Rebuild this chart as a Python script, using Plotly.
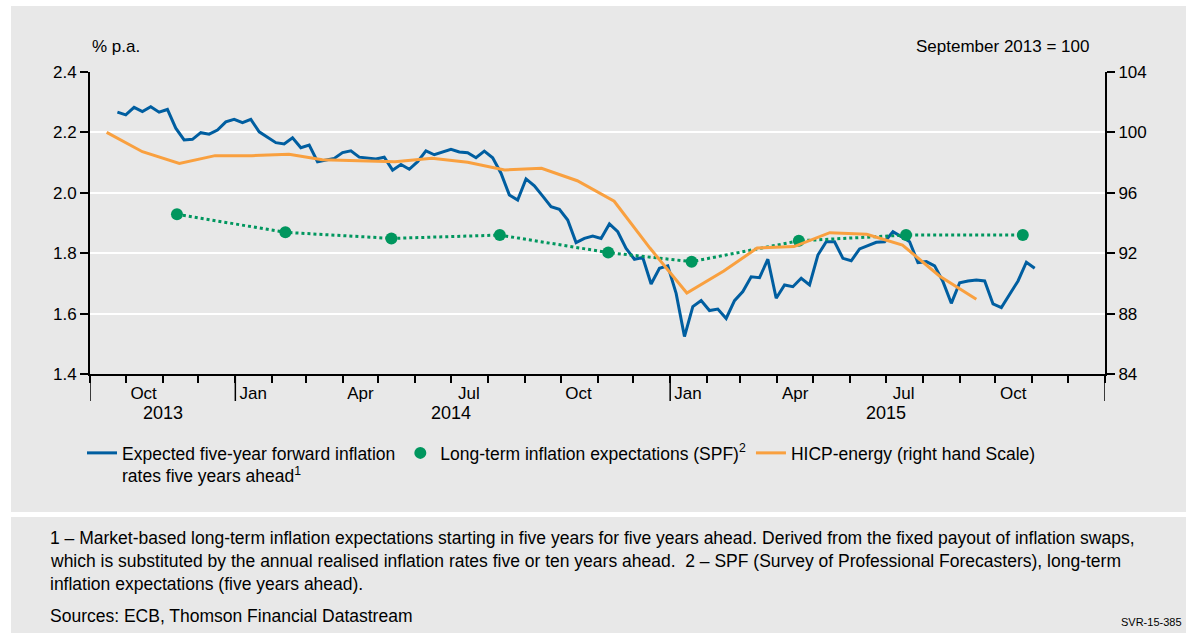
import pandas as pd
import plotly.graph_objects as go

# ---------------- data ----------------
blue_start = "2013-09-24"
blue_values = [
    2.267, 2.258, 2.283, 2.269, 2.285, 2.267, 2.276, 2.214, 2.175, 2.177,
    2.199, 2.194, 2.208, 2.235, 2.243, 2.232, 2.243, 2.202, 2.184, 2.166,
    2.162, 2.182, 2.149, 2.158, 2.103, 2.109, 2.114,
    2.133, 2.139, 2.118, 2.114, 2.112, 2.118, 2.075, 2.094, 2.078, 2.103,
    2.139, 2.126, 2.136, 2.144, 2.135, 2.133, 2.116, 2.138, 2.116, 2.065,
    1.993, 1.976, 2.046, 2.023, 1.989, 1.954, 1.945, 1.910,
    1.835, 1.849, 1.857, 1.849, 1.897, 1.871, 1.816, 1.780, 1.786, 1.698,
    1.750, 1.758, 1.667, 1.524, 1.623, 1.643, 1.610, 1.615, 1.584, 1.643,
    1.673, 1.722, 1.719, 1.780, 1.651, 1.695, 1.689,
    1.717, 1.695, 1.794, 1.838, 1.838, 1.783, 1.775, 1.814, 1.824, 1.836,
    1.838, 1.871, 1.855, 1.838, 1.769, 1.772, 1.758, 1.706, 1.634, 1.702,
    1.708, 1.711, 1.708, 1.632, 1.620, 1.665, 1.708, 1.770, 1.750,
]
blue_dates = pd.date_range(blue_start, periods=len(blue_values), freq="7D")

spf_dates = ["2013-11-13", "2014-02-12", "2014-05-12", "2014-08-11", "2014-11-10",
             "2015-01-19", "2015-04-19", "2015-07-18", "2015-10-24"]
spf_values = [1.929, 1.869, 1.849, 1.860, 1.802, 1.772, 1.841, 1.860, 1.860]

hicp_values = [100.0, 98.72, 97.95, 98.46, 98.46, 98.55, 98.19, 98.13, 98.06, 98.28,
               98.02, 97.51, 97.62, 96.80, 95.44, 92.34, 89.36, 90.82, 92.34, 92.44,
               93.36, 93.25, 92.54, 90.49, 88.95]
hicp_dates = pd.date_range("2013-09-01", periods=len(hicp_values), freq="MS") + pd.Timedelta(days=14)

month_tick_dates = ["2013-10-16", "2014-01-16", "2014-04-16", "2014-07-16", "2014-10-16",
                    "2015-01-16", "2015-04-16", "2015-07-16", "2015-10-16"]
month_tick_labels = ["Oct", "Jan", "Apr", "Jul", "Oct", "Jan", "Apr", "Jul", "Oct"]
year_label_dates = ["2013-11-01", "2014-07-01", "2015-07-01"]
year_labels = ["2013", "2014", "2015"]
year_boundaries = ["2013-09-01", "2014-01-01", "2015-01-01", "2016-01-01"]

BLUE = "#005EA0"
GREEN = "#00965E"
ORANGE = "#F9A03F"
GRAY = "#E8E8E8"
FONT = "Liberation Sans, Arial, sans-serif"

W, H = 1186, 633
L, R, T, B = 90, 1186 - 1105, 72, 633 - 374
PW, PH = W - L - R, H - T - B


def px(x):
    return (x - L) / PW


def py(y):
    return (H - B - y) / PH


fig = go.Figure()

fig.add_trace(go.Scatter(
    x=blue_dates, y=blue_values, mode="lines",
    line=dict(color=BLUE, width=3),
    name="Expected five-year forward inflation<br>rates five years ahead<sup>1</sup>",
))
fig.add_trace(go.Scatter(
    x=spf_dates, y=spf_values, mode="lines",
    line=dict(color=GREEN, width=3, dash="dot"),
    showlegend=False, hoverinfo="skip",
))
fig.add_trace(go.Scatter(
    x=spf_dates, y=spf_values, mode="markers",
    marker=dict(color=GREEN, size=12),
    name="Long-term inflation expectations (SPF)<sup>2</sup>",
))
fig.add_trace(go.Scatter(
    x=hicp_dates, y=hicp_values, mode="lines", yaxis="y2",
    line=dict(color=ORANGE, width=3),
    name="HICP-energy (right hand Scale)",
))

shapes = [
    dict(type="rect", xref="paper", yref="paper", x0=px(11), x1=px(1200), y0=py(512), y1=py(6),
         fillcolor=GRAY, line=dict(width=0), layer="below"),
    dict(type="rect", xref="paper", yref="paper", x0=px(11), x1=px(1200), y0=py(650), y1=py(517),
         fillcolor=GRAY, line=dict(width=0), layer="below"),
]
for d in year_boundaries:
    shapes.append(dict(type="line", xref="x", yref="paper", x0=d, x1=d, y0=0, y1=-27 / PH,
                       line=dict(color="black", width=1.5)))

annotations = [
    dict(text="% p.a.", xref="paper", yref="paper", x=px(90), y=py(47),
         xanchor="left", yanchor="middle", showarrow=False, font=dict(size=17)),
    dict(text="September 2013 = 100", xref="paper", yref="paper", x=px(1091), y=py(47),
         xanchor="right", yanchor="middle", showarrow=False, font=dict(size=17)),
]
for d, t in zip(year_label_dates, year_labels):
    annotations.append(dict(text=t, xref="x", yref="paper", x=d, y=py(413),
                            xanchor="center", yanchor="middle", showarrow=False,
                            font=dict(size=18)))

foot = [
    ("1 – Market-based long-term inflation expectations starting in five years for five years ahead. Derived from the fixed payout of inflation swaps,", 538),
    ("which is substituted by the annual realised inflation rates five or ten years ahead. &nbsp;2 – SPF (Survey of Professional Forecasters), long-term", 561),
    ("inflation expectations (five years ahead).", 584),
    ("Sources: ECB, Thomson Financial Datastream", 616),
]
for t, y in foot:
    annotations.append(dict(text=t, xref="paper", yref="paper", x=px(48), y=py(y),
                            xanchor="left", yanchor="middle", showarrow=False,
                            font=dict(size=17.5)))
annotations.append(dict(text="SVR-15-385", xref="paper", yref="paper", x=px(1184), y=py(622),
                        xanchor="right", yanchor="middle", showarrow=False,
                        font=dict(size=11)))

fig.update_layout(
    width=W, height=H, autosize=False,
    margin=dict(l=L, r=R, t=T, b=B, pad=0),
    paper_bgcolor="white", plot_bgcolor=GRAY,
    font=dict(family=FONT, color="black", size=17),
    showlegend=True,
    legend=dict(orientation="h", x=px(82), y=py(435), xanchor="left", yanchor="top",
                bgcolor="rgba(0,0,0,0)", font=dict(size=17.5), valign="top",
                traceorder="normal"),
    xaxis=dict(
        type="date", range=["2013-09-01", "2016-01-01"],
        tickmode="array", tickvals=month_tick_dates, ticktext=month_tick_labels,
        ticks="", showgrid=False, showline=True, linecolor="black", linewidth=2,
        zeroline=False, tickfont=dict(size=17), ticklabelstandoff=3,
        minor=dict(dtick="M1", tick0="2013-09-01", ticks="outside", ticklen=7,
                   tickwidth=1.5, tickcolor="black", showgrid=False),
    ),
    yaxis=dict(
        range=[1.4, 2.4], dtick=0.2, tick0=1.4, tickformat=".1f",
        showgrid=True, gridcolor="white", gridwidth=2,
        showline=True, linecolor="black", linewidth=2, zeroline=False,
        ticks="outside", ticklen=8, tickwidth=1.5, tickcolor="black",
        tickfont=dict(size=17),
    ),
    yaxis2=dict(
        range=[84, 104], dtick=4, tick0=84, overlaying="y", side="right",
        showgrid=False, showline=True, linecolor="black", linewidth=2, zeroline=False,
        ticks="outside", ticklen=8, tickwidth=1.5, tickcolor="black",
        tickfont=dict(size=17),
    ),
    shapes=shapes,
    annotations=annotations,
)

fig.write_html(
    "out.html",
    config={"displayModeBar": False},
    post_script="document.body.style.margin='0';document.body.style.overflow='hidden';",
)
